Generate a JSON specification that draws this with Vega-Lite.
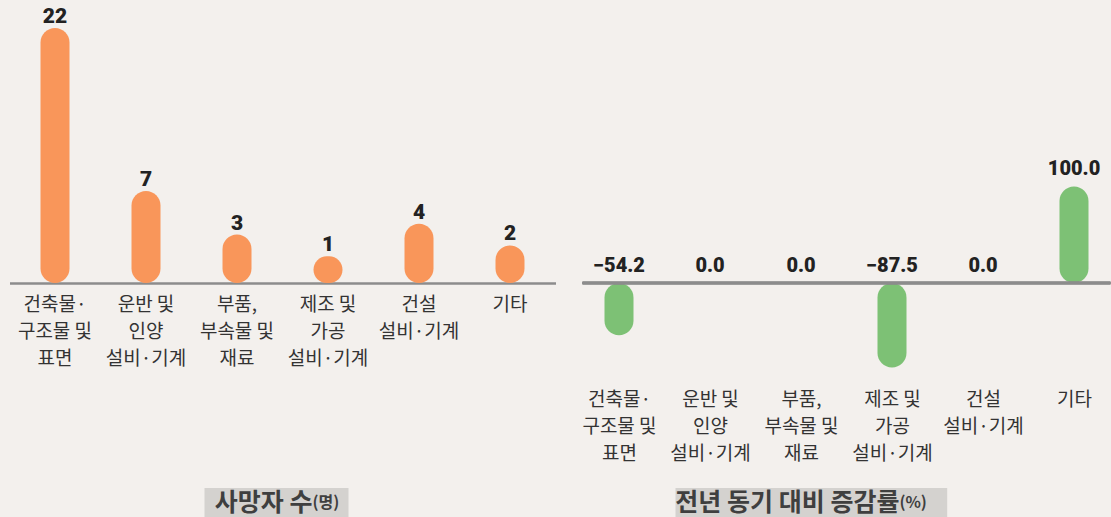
{
  "$schema": "https://vega.github.io/schema/vega-lite/v6.json",
  "background": "#F3F0ED",
  "padding": {"left": 9.5, "top": 6, "right": 0, "bottom": 0},
  "config": {
    "view": {"stroke": null},
    "font": "Noto Sans CJK KR",
    "axis": {"labelFont": "Noto Sans CJK KR"}
  },
  "datasets": {
    "main": [
      {"category": "건축물·|구조물 및|표면", "deaths": 22, "change": -54.2},
      {"category": "운반 및|인양|설비·기계", "deaths": 7, "change": 0.0},
      {"category": "부품,|부속물 및|재료", "deaths": 3, "change": 0.0},
      {"category": "제조 및|가공|설비·기계", "deaths": 1, "change": -87.5},
      {"category": "건설|설비·기계", "deaths": 4, "change": 0.0},
      {"category": "기타", "deaths": 2, "change": 100.0}
    ]
  },
  "spacing": 25,
  "vconcat": [
    {
      "bounds": "flush",
      "spacing": 27.1,
      "hconcat": [
        {
          "width": 546,
          "height": 255,
          "data": {"name": "main"},
          "layer": [
            {
              "mark": {"type": "bar", "width": 29, "cornerRadius": 14.5, "color": "#F9965A"},
              "encoding": {
                "x": {
                  "field": "category", "type": "nominal", "sort": null,
                  "scale": {"paddingInner": 0, "paddingOuter": 0},
                  "axis": {
                    "title": null, "labelAngle": 0, "labelExpr": "split(datum.label, '|')",
                    "domainColor": "#8C8C8C", "domainWidth": 2.5, "ticks": false,
                    "labelPadding": 12, "labelFontSize": 19, "labelColor": "#333333",
                    "labelLineHeight": 27, "labelOverlap": false, "labelLimit": 300
                  }
                },
                "y": {"field": "deaths", "type": "quantitative", "scale": {"domain": [-1.45, 22], "nice": false, "zero": false}, "axis": null},
                "y2": {"datum": -1.45}
              }
            },
            {
              "mark": {"type": "text", "baseline": "alphabetic", "dy": -5, "font": "Roboto", "fontWeight": 900, "fontSize": 21, "color": "#222222"},
              "encoding": {
                "x": {"field": "category", "type": "nominal", "sort": null},
                "y": {"field": "deaths", "type": "quantitative", "axis": null},
                "text": {"field": "deaths", "type": "quantitative"}
              }
            }
          ]
        },
        {
          "width": 527.8,
          "height": 350,
          "data": {"name": "main"},
          "layer": [
            {
              "mark": {"type": "bar", "width": 29, "cornerRadius": 14.5, "color": "#7DC175"},
              "encoding": {
                "x": {
                  "field": "category", "type": "nominal", "sort": null,
                  "scale": {"type": "point", "padding": 0.4},
                  "axis": {
                    "title": null, "labelAngle": 0, "labelExpr": "split(datum.label, '|')",
                    "domain": false, "ticks": false,
                    "labelPadding": 12, "labelFontSize": 19, "labelColor": "#333333",
                    "labelLineHeight": 27, "labelOverlap": false, "labelLimit": 300
                  }
                },
                "y": {"field": "change", "type": "quantitative", "scale": {"domain": [-98.4, 264.2], "nice": false, "zero": false}, "axis": null},
                "y2": {"datum": 0}
              }
            },
            {
              "mark": {"type": "rule", "color": "#8C8C8C", "strokeWidth": 2.5},
              "encoding": {"y": {"datum": 0, "type": "quantitative", "axis": null}}
            },
            {
              "transform": [{"filter": "datum.change > 0"}],
              "mark": {"type": "text", "baseline": "alphabetic", "dy": -11, "font": "Roboto", "fontWeight": 900, "fontSize": 20, "color": "#222222"},
              "encoding": {
                "x": {"field": "category", "type": "nominal", "sort": null},
                "y": {"field": "change", "type": "quantitative", "axis": null},
                "text": {"field": "change", "type": "quantitative", "format": ".1f"}
              }
            },
            {
              "transform": [{"filter": "datum.change <= 0"}],
              "mark": {"type": "text", "baseline": "alphabetic", "dy": -11, "font": "Roboto", "fontWeight": 900, "fontSize": 20, "color": "#222222"},
              "encoding": {
                "x": {"field": "category", "type": "nominal", "sort": null},
                "y": {"datum": 0, "type": "quantitative", "axis": null},
                "text": {"field": "change", "type": "quantitative", "format": ".1f"}
              }
            }
          ]
        }
      ]
    },
    {
      "bounds": "flush",
      "spacing": 0,
      "hconcat": [
        {
          "width": 194.8, "height": 29.5,
          "data": {"values": [{"t": ""}]},
          "mark": {"type": "text"},
          "encoding": {"text": {"field": "t"}}
        },
        {
          "width": 144, "height": 29.5,
          "view": {"fill": "#D4D2CF", "stroke": null},
          "data": {"values": [{"t": "사망자 수", "s": "(명)"}]},
          "layer": [
            {
              "mark": {"type": "text", "align": "right", "baseline": "middle", "fontSize": 25, "fontWeight": "bold", "color": "#3F3F3F"},
              "encoding": {
                "x": {"datum": 0.75, "type": "quantitative", "scale": {"domain": [0, 1]}, "axis": null},
                "text": {"field": "t"}
              }
            },
            {
              "mark": {"type": "text", "align": "left", "baseline": "middle", "fontSize": 16, "fontWeight": "bold", "color": "#3F3F3F"},
              "encoding": {
                "x": {"datum": 0.75, "type": "quantitative", "axis": null},
                "text": {"field": "s"}
              }
            }
          ]
        },
        {
          "width": 326.7, "height": 29.5,
          "data": {"values": [{"t": ""}]},
          "mark": {"type": "text"},
          "encoding": {"text": {"field": "t"}}
        },
        {
          "width": 271.7, "height": 29.5,
          "view": {"fill": "#D4D2CF", "stroke": null},
          "data": {"values": [{"t": "전년 동기 대비 증감률", "s": "(%)"}]},
          "layer": [
            {
              "mark": {"type": "text", "align": "right", "baseline": "middle", "fontSize": 25, "fontWeight": "bold", "color": "#3F3F3F"},
              "encoding": {
                "x": {"datum": 0.824, "type": "quantitative", "scale": {"domain": [0, 1]}, "axis": null},
                "text": {"field": "t"}
              }
            },
            {
              "mark": {"type": "text", "align": "left", "baseline": "middle", "fontSize": 16, "fontWeight": "bold", "color": "#3F3F3F"},
              "encoding": {
                "x": {"datum": 0.824, "type": "quantitative", "axis": null},
                "text": {"field": "s"}
              }
            }
          ]
        }
      ]
    }
  ]
}
